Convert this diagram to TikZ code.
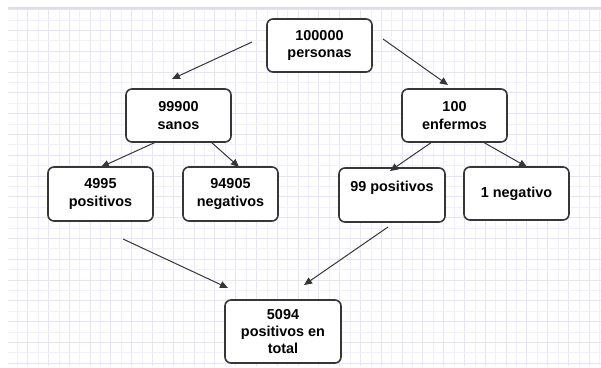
\documentclass[tikz,border=0pt]{standalone}
\usepackage{fontspec}
\setmainfont{Liberation Sans}
\usetikzlibrary{arrows.meta}
\definecolor{gridA}{HTML}{F0EFFF}
\definecolor{gridB}{HTML}{E6E4FC}
\definecolor{edge}{HTML}{363636}
\begin{document}
\begin{tikzpicture}[x=1pt,y=-1pt,
  box/.style={draw=edge, line width=1.6pt, rounded corners=6pt, fill=white,
    align=center, inner sep=0pt, font=\bfseries\fontsize{14.4}{17.4}\selectfont},
  conn/.style={draw=edge, line width=1pt, -{Triangle[length=8pt,width=7pt]}}]
\useasboundingbox (0,0) rectangle (601,367);
\fill[white] (0,0) rectangle (601,367);
% grid
\foreach \i in {1,...,57} {
  \pgfmathtruncatemacro{\e}{mod(\i,2)}
  \ifnum\e=0 \draw[gridB, line width=0.9pt] (6.9+10.4*\i, 8) -- (6.9+10.4*\i, 366);
  \else \draw[gridA, line width=0.8pt] (6.9+10.4*\i, 8) -- (6.9+10.4*\i, 366); \fi
}
\foreach \j in {0,...,34} {
  \pgfmathtruncatemacro{\e}{mod(\j,2)}
  \ifnum\e=0 \draw[gridB, line width=0.9pt] (8, 9.6+10.4*\j) -- (601, 9.6+10.4*\j);
  \else \draw[gridA, line width=0.8pt] (8, 9.6+10.4*\j) -- (601, 9.6+10.4*\j); \fi
}
\draw[black!13, line width=1.6pt] (8,8) -- (601,8);
% nodes
\node[box, minimum width=105pt, minimum height=53pt] (top) at (319.5,45.5) {100000\\personas};
\node[box, minimum width=105pt, minimum height=53pt] (sanos) at (178.5,115.5) {99900\\sanos};
\node[box, minimum width=105pt, minimum height=53pt] (enf) at (454.5,115.5) {100\\enfermos};
\node[box, minimum width=105pt, minimum height=54pt] (pos1) at (100.5,194) {4995\\positivos};
\node[box, minimum width=95pt, minimum height=54pt] (neg1) at (230.5,194) {94905\\negativos};
\node[box, minimum width=106pt, minimum height=54pt] (pos2) at (392,195) {99 positivos\\\mbox{}};
\node[box, minimum width=105pt, minimum height=53pt] (neg2) at (516.5,193.5) {1 negativo};
\node[box, minimum width=116pt, minimum height=63pt] (tot) at (283,331.5) {5094\\positivos en\\total};
% connector end points
\coordinate (s1) at (252,42);  \coordinate (e1) at (172,79);
\coordinate (s2) at (383,39);  \coordinate (e2) at (448,85);
\coordinate (s3) at (156,142); \coordinate (e3) at (101,167);
\coordinate (s4) at (211,142); \coordinate (e4) at (239,167);
\coordinate (s5) at (432,142); \coordinate (e5) at (390,171);
\coordinate (s6) at (483,142); \coordinate (e6) at (527,167);
\coordinate (s7) at (123,239); \coordinate (e7) at (228,288);
\coordinate (s8) at (388,227); \coordinate (e8) at (304,285);
\draw[conn] (s1) -- (e1);
\draw[conn] (s2) -- (e2);
\draw[conn] (s3) -- (e3);
\draw[conn] (s4) -- (e4);
\draw[conn] (s5) -- (e5);
\draw[conn] (s6) -- (e6);
\draw[conn] (s7) -- (e7);
\draw[conn] (s8) -- (e8);
\end{tikzpicture}
\end{document}
